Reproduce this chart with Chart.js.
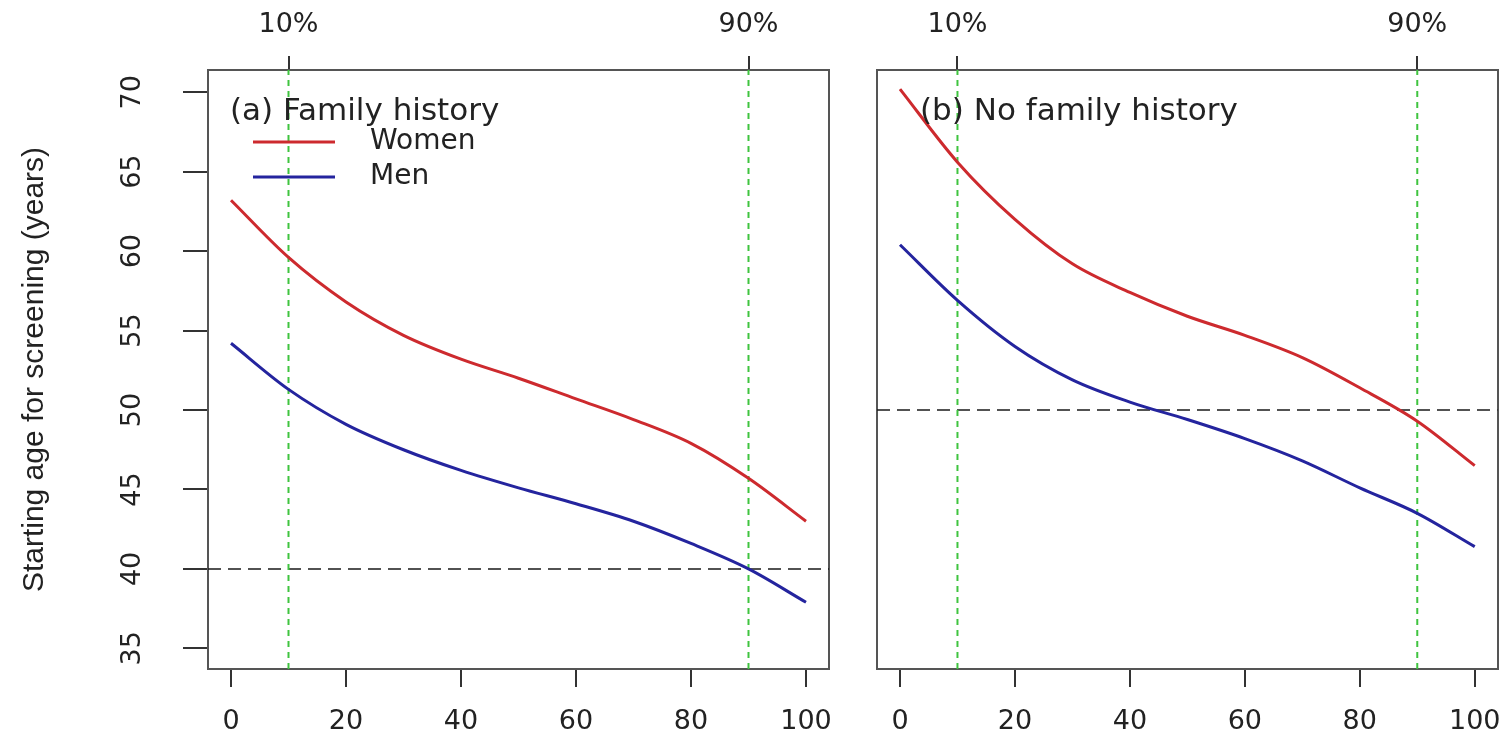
<!DOCTYPE html>
<html>
<head>
<meta charset="utf-8">
<script src="https://cdn.jsdelivr.net/npm/chart.js@4.4.1/dist/chart.umd.min.js"></script>
<style>
  html, body { margin: 0; padding: 0; background: #fff; }
  .panel { position: absolute; top: 0; height: 740px; }
  #left { left: 0; width: 845px; }
  #right { left: 845px; width: 666px; }
</style>
</head>
<body>
<div class="panel" id="left"><canvas id="chartA"></canvas></div>
<div class="panel" id="right"><canvas id="chartB"></canvas></div>
<script>
// risk percentile (x) and starting age
const percentiles = [0, 10, 20, 30, 40, 50, 60, 70, 80, 90, 100]
const womenFamily = [63.2, 59.6, 56.8, 54.7, 53.2, 52.0, 50.7, 49.4, 47.9, 45.7, 43.0]
const menFamily = [54.2, 51.3, 49.1, 47.5, 46.2, 45.1, 44.1, 43.0, 41.6, 40.0, 37.9]
const womenNoFamily = [70.2, 65.6, 62.0, 59.2, 57.4, 55.9, 54.7, 53.3, 51.4, 49.3, 46.5]
const menNoFamily = [60.4, 56.9, 54.0, 51.9, 50.5, 49.4, 48.2, 46.8, 45.1, 43.5, 41.4]

const xTickValues = [0, 20, 40, 60, 80, 100]
const yTickValues = [35, 40, 45, 50, 55, 60, 65, 70]
const guidePercentiles = [10, 90]
const guideLabels = ['10%', '90%']
const refAgeFamily = 40
const refAgeNoFamily = 50

const X_MIN = -4
const X_MAX = 104
const Y_MIN = 33.7
const Y_MAX = 71.4

const TEXT = '#222'
const FONT = 'DejaVu Sans'

const toPoints = (values) => percentiles.map((p, i) => ({ x: p, y: values[i] }))

const panelText = {
  id: 'panelText',
  afterDatasetsDraw(chart, args, opts) {
    const { ctx, chartArea } = chart
    ctx.save()
    ctx.fillStyle = TEXT
    ctx.textBaseline = 'alphabetic'
    ctx.textAlign = 'left'
    ctx.font = `31px "${FONT}"`
    ctx.fillText(opts.title, chartArea.left + opts.titleDx, chartArea.top + 50)

    if (opts.legend) {
      const rows = chart.data.datasets.filter((d) => d.inLegend)
      rows.forEach((d, i) => {
        const y = chartArea.top + 72 + i * 35
        ctx.strokeStyle = d.borderColor
        ctx.lineWidth = 3
        ctx.beginPath()
        ctx.moveTo(chartArea.left + 45, y)
        ctx.lineTo(chartArea.left + 127, y)
        ctx.stroke()
        ctx.font = `28px "${FONT}"`
        ctx.textBaseline = 'middle'
        ctx.fillText(d.label, chartArea.left + 162, y)
      })
    }

    // y tick labels, rotated like the original axis
    if (opts.yLabels) {
      const scale = chart.scales.y
      ctx.font = `27px "${FONT}"`
      ctx.textAlign = 'center'
      ctx.textBaseline = 'middle'
      yTickValues.forEach((v) => {
        ctx.save()
        ctx.translate(scale.right - 75, scale.getPixelForValue(v))
        ctx.rotate(-Math.PI / 2)
        ctx.fillText(String(v), 0, 0)
        ctx.restore()
      })
    }
    ctx.restore()
  },
}

const makePanel = (canvasId, cfg) => {
  const ctx = document.getElementById(canvasId).getContext('2d')
  const guides = guidePercentiles.map((p) => ({
    label: `${p}%`,
    data: [{ x: p, y: Y_MIN }, { x: p, y: Y_MAX }],
    borderColor: '#3fc43f',
    borderWidth: 2,
    borderDash: [6, 5],
    pointRadius: 0,
  }))

  return new Chart(ctx, {
    type: 'line',
    data: {
      datasets: [
        {
          label: 'Women',
          data: toPoints(cfg.women),
          borderColor: '#cd2a2e',
          borderWidth: 3,
          pointRadius: 0,
          cubicInterpolationMode: 'monotone',
          inLegend: true,
        },
        {
          label: 'Men',
          data: toPoints(cfg.men),
          borderColor: '#24249e',
          borderWidth: 3,
          pointRadius: 0,
          cubicInterpolationMode: 'monotone',
          inLegend: true,
        },
        ...guides,
        {
          label: 'reference age',
          data: [{ x: X_MIN, y: cfg.refAge }, { x: X_MAX, y: cfg.refAge }],
          borderColor: '#1a1a1a',
          borderWidth: 1.5,
          borderDash: [13, 7],
          pointRadius: 0,
        },
      ],
    },
    options: {
      responsive: true,
      maintainAspectRatio: false,
      animation: false,
      layout: { padding: { left: 0, right: cfg.padRight, top: 0, bottom: 0 } },
      scales: {
        x: {
          type: 'linear',
          position: 'bottom',
          min: X_MIN,
          max: X_MAX,
          afterBuildTicks: (s) => { s.ticks = xTickValues.map((v) => ({ value: v })) },
          afterFit: (s) => { s.height = 71 },
          grid: { drawOnChartArea: false, tickLength: 18, color: '#333', lineWidth: 2 },
          border: { display: true, color: '#555', width: 2 },
          // tall line height pushes the labels down without widening the side padding
          ticks: { color: TEXT, font: { family: FONT, size: 27, lineHeight: 1.85 }, padding: 10, maxRotation: 0, autoSkip: false },
        },
        xTop: {
          type: 'linear',
          position: 'top',
          min: X_MIN,
          max: X_MAX,
          afterBuildTicks: (s) => { s.ticks = guidePercentiles.map((v) => ({ value: v })) },
          afterFit: (s) => { s.height = 70 },
          grid: { drawOnChartArea: false, tickLength: 14, color: '#333', lineWidth: 2 },
          border: { display: true, color: '#555', width: 2 },
          ticks: {
            color: TEXT,
            font: { family: FONT, size: 27 },
            padding: 15,
            maxRotation: 0,
            autoSkip: false,
            callback: (value, index) => guideLabels[index],
          },
        },
        y: {
          type: 'linear',
          min: Y_MIN,
          max: Y_MAX,
          afterBuildTicks: (s) => { s.ticks = yTickValues.map((v) => ({ value: v })) },
          afterFit: (s) => { s.width = cfg.yWidth },
          grid: { drawOnChartArea: false, drawTicks: cfg.yLabels, tickLength: 25, color: '#333', lineWidth: 2 },
          border: { display: true, color: '#555', width: 2 },
          ticks: { display: false },
          title: {
            display: cfg.yLabels,
            text: 'Starting age for screening (years)',
            color: TEXT,
            font: { family: 'Liberation Sans', size: 30 },
            padding: { top: 17, bottom: 0 },
          },
        },
        yRight: {
          type: 'linear',
          position: 'right',
          min: Y_MIN,
          max: Y_MAX,
          afterFit: (s) => { s.width = 0 },
          grid: { display: false },
          border: { display: true, color: '#555', width: 2 },
          ticks: { display: false },
        },
      },
      plugins: {
        legend: { display: false },
        tooltip: { enabled: false },
        panelText: {
          title: cfg.title,
          titleDx: cfg.titleDx,
          legend: cfg.legend,
          yLabels: cfg.yLabels,
        },
      },
    },
    plugins: [panelText],
  })
}

makePanel('chartA', {
  title: '(a) Family history',
  titleDx: 22,
  women: womenFamily,
  men: menFamily,
  refAge: refAgeFamily,
  legend: true,
  yLabels: true,
  yWidth: 208,
  padRight: 16,
})

makePanel('chartB', {
  title: '(b) No family history',
  titleDx: 43,
  women: womenNoFamily,
  men: menNoFamily,
  refAge: refAgeNoFamily,
  legend: false,
  yLabels: false,
  yWidth: 32,
  padRight: 13,
})
</script>
</body>
</html>
